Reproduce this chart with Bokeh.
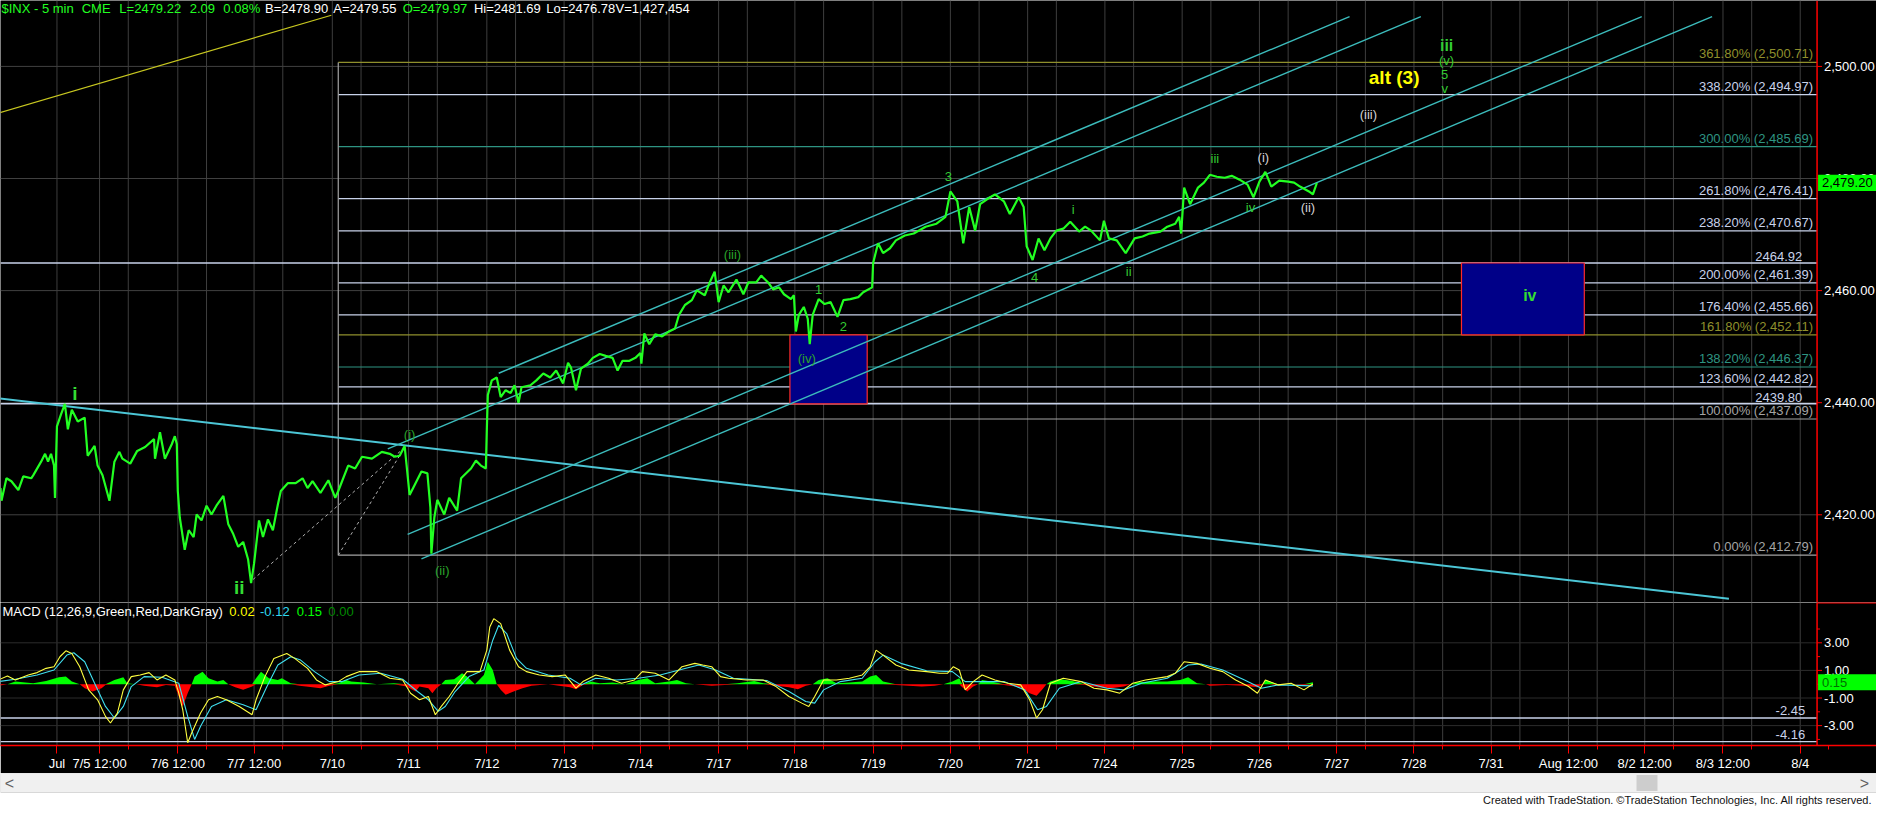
from bokeh.plotting import figure
from bokeh.layouts import column
from bokeh.models import Range1d, FixedTicker
from bokeh.core.properties import value
from bokeh.embed import file_html
from bokeh.resources import INLINE

FONT = "Liberation Sans"

# ---------------- data (x measured in 5-minute bars) ----------------
tick_pos = [59, 102, 181, 258, 337, 414, 493, 571, 648, 727, 804, 883, 961, 1039,
            1117, 1195, 1273, 1351, 1429, 1507, 1585, 1662, 1741, 1819]
tick_labels = ["Jul", "7/5 12:00", "7/6 12:00", "7/7 12:00", "7/10", "7/11", "7/12", "7/13",
               "7/14", "7/17", "7/18", "7/19", "7/20", "7/21", "7/24", "7/25", "7/26", "7/27",
               "7/28", "7/31", "Aug 12:00", "8/2 12:00", "8/3 12:00", "8/4"]
noon_pos = [t + 29 for t in tick_pos[1:]]

price_ticks = [2420, 2440, 2460, 2480, 2500]
macd_ticks = [-3, -1, 1, 3]
macd_minor = [-4, -2, 0, 2, 4]

price_pts = [
(2,2424.77),(3,2422.50),(8,2426.51),(13,2425.99),(20,2424.42),(25,2426.86),(33,2426.51),(35,2427.04),(43,2429.48),(47,2430.88),(50,2429.48),(53,2430.88),(56,2428.78),(57,2423.02),(59,2435.77),(63,2437.87),(67,2439.80),(70,2435.25),(74,2438.74),(80,2436.64),(87,2437.34),(90,2430.53),(97,2432.28),(100,2428.78),(105,2427.04),(112,2422.50),(117,2429.48),(122,2431.23),(125,2430.01),(133,2429.13),(140,2431.40),(148,2432.10),(157,2433.50),(158,2430.01),(163,2434.72),(168,2430.01),(175,2432.63),(178,2434.02),(180,2432.63),
(181,2424.24),(183,2419.52),(188,2413.76),(192,2417.25),(197,2416.03),(200,2420.05),(205,2419.00),(210,2421.62),(215,2420.05),(220,2421.62),(227,2423.37),(232,2418.30),(237,2416.56),(242,2414.28),(247,2415.16),(252,2412.01),(255,2407.82),(258,2411.32),(263,2419.00),(267,2416.03),(272,2419.18),(277,2417.25),(282,2421.80),(285,2424.24),(292,2425.64),(300,2425.64),(307,2426.51),(312,2424.77),(317,2425.99),(325,2423.89),(333,2426.16),(340,2423.02),(343,2424.24),(353,2428.78),(360,2428.26),(367,2430.35),(377,2430.01),(387,2431.23),(395,2430.88),(400,2430.35),(405,2430.53),(410,2432.28),(415,2423.54),(420,2425.29),(427,2427.73),(433,2427.39),(436,2421.27),(437,2413.06),(440,2419.52),(443,2422.67),(450,2420.05),(455,2423.02),(463,2420.75),(467,2426.51),(470,2427.04),(477,2428.26),(482,2429.66),(487,2428.78),(492,2428.26),
(493,2435.25),(494,2441.36),(498,2443.98),(503,2444.50),(507,2441.01),(512,2442.23),(517,2441.71),(521,2443.11),(525,2439.96),(528,2442.76),(537,2443.11),(543,2443.98),(550,2445.20),(557,2444.50),(563,2445.73),(570,2443.45),(575,2447.12),(578,2446.25),(583,2442.23),(588,2446.07),(595,2446.95),(600,2448.00),(607,2448.69),(613,2448.35),(620,2448.00),(625,2445.73),(630,2447.47),(637,2447.47),(643,2448.00),(648,2448.87),(649,2446.95),(652,2452.36),(657,2450.44),(663,2452.19),(670,2451.84),(677,2452.71),(683,2453.24),(687,2455.68),(693,2457.43),(700,2458.30),(705,2460.05),(713,2459.17),(718,2461.45),(723,2463.37),(727,2457.95),(732,2460.92),(737,2459.70),(745,2461.97),(752,2459.35),(757,2461.45),(765,2461.45),(770,2462.67),(777,2461.45),(782,2460.22),(788,2460.57),(793,2459.35),(800,2458.48),(803,2459.17),
(805,2452.71),(808,2455.68),(813,2457.08),(817,2454.98),(819,2450.44),(822,2455.68),(828,2458.48),(834,2457.60),(840,2457.95),(847,2455.33),(853,2458.30),(860,2458.48),(868,2458.83),(873,2459.70),(882,2460.57),
(883,2464.94),(888,2468.43),(893,2466.69),(900,2467.56),(906,2468.96),(915,2469.83),(924,2470.18),(936,2471.40),(947,2471.93),(956,2473.15),(961,2477.69),(968,2475.94),(974,2468.43),(980,2474.90),(986,2470.70),(991,2475.42),(998,2476.29),(1006,2477.17),(1015,2475.94),(1021,2473.67),(1030,2476.64),(1035,2474.90),
(1038,2467.91),(1044,2465.46),(1050,2469.31),(1056,2467.21),(1062,2469.31),(1068,2470.70),(1075,2471.05),(1082,2472.28),(1091,2470.53),(1097,2471.40),(1103,2470.70),(1112,2468.96),(1116,2472.45),(1121,2469.31),(1129,2468.96),(1138,2466.69),(1147,2469.31),(1155,2469.66),(1162,2470.18),(1173,2470.53),(1180,2471.40),(1188,2471.93),(1192,2473.15),(1194,2470.18),
(1197,2478.39),(1203,2475.42),(1211,2478.39),(1217,2479.26),(1223,2480.66),(1230,2480.31),(1238,2480.14),(1245,2480.48),(1253,2479.79),(1261,2478.91),(1267,2476.64),(1273,2479.44),(1279,2481.18),(1285,2478.56),(1293,2479.61),(1302,2479.44),(1308,2479.26),(1314,2478.56),(1323,2477.69),(1327,2477.17),(1331,2479.20)]

fib_pct = ["361.80%", "338.20%", "300.00%", "261.80%", "238.20%", "200.00%", "176.40%",
           "161.80%", "138.20%", "123.60%", "100.00%", "0.00%"]
fib_val = [2500.71, 2494.97, 2485.69, 2476.41, 2470.67, 2461.39, 2455.66,
           2452.11, 2446.37, 2442.82, 2437.09, 2412.79]
level_val = [2464.92, 2439.80]
fib_start = 343

channel_x0 = [505, 393, 413, 427]
channel_y0 = [2445.25, 2431.75, 2416.50, 2412.14]
channel_x1 = [1364, 1436, 1659, 1730]
channel_y1 = [2508.90, 2508.90, 2508.90, 2508.90]
trend_x = [0, 1747]
trend_y = [2440.78, 2405.03]
upper_x = [0, 336]
upper_y = [2491.67, 2509.13]
dash_x0 = [257, 343]
dash_y0 = [2408.46, 2412.79]
dash_x1 = [410, 410]
dash_y1 = [2432.0, 2432.0]

box_left = [799, 1477]
box_right = [877, 1601]
box_bottom = [2439.80, 2452.11]
box_top = [2452.11, 2464.92]

macd_pts = [(0,0.31),(9,0.60),(17,0.31),(30,0.67),(39,0.84),(48,1.15),(56,1.27),(62,1.99),(68,2.42),(74,2.23),(82,1.27),(91,-0.41),(100,-1.13),(108,-2.33),(113,-2.81),(120,-2.09),(126,-0.41),(134,0.55),(143,0.67),(152,0.84),(160,0.31),(169,0.67),(178,0.31),(182,-0.65),(186,-1.85),(191,-4.24),(195,-3.53),(204,-2.09),(212,-1.13),(221,-0.89),(230,-1.13),(243,-1.61),(256,-2.21),(260,-1.13),(269,0.55),(278,1.87),(291,2.23),(299,1.87),(312,1.15),(321,0.31),(330,-0.05),(343,0.19),(351,0.55),(364,0.91),(382,0.91),(395,0.43),(408,0.31),(416,-0.65),(425,-1.13),(434,-0.89),(441,-2.21),(447,-1.61),(455,-0.89),(464,0.07),(473,0.91),(486,0.91),(493,2.47),(496,4.15),(500,4.75),(507,4.39),(516,2.47),(525,1.27),(533,0.91),(546,0.67),(559,0.55),(572,0.67),(583,-0.29),(590,0.19),(603,0.67),(616,0.43),(629,0.07),(642,0.31),(650,0.91),(663,0.79),(677,0.31),(690,1.27),(703,1.51),(711,1.39),(720,1.27),(729,0.55),(737,0.43),(755,0.31),(772,0.31),(785,-0.17),(798,-0.89),(811,-1.37),(818,-1.61),(824,-0.89),(833,0.31),(846,0.31),(859,0.43),(872,0.67),(880,1.27),(886,2.47),(893,2.11),(906,1.39),(919,1.03),(937,0.91),(950,0.79),(958,0.79),(964,1.27),(970,1.03),(976,-0.41),(984,0.19),(993,0.67),(1006,0.31),(1019,0.07),(1032,-0.05),(1041,-1.13),(1048,-2.45),(1054,-1.85),(1062,0.07),(1075,0.43),(1093,0.19),(1106,-0.29),(1119,-0.41),(1132,-0.65),(1145,0.07),(1158,0.31),(1180,0.55),(1188,0.79),(1197,1.63),(1210,1.51),(1223,1.15),(1236,0.91),(1249,0.31),(1262,-0.17),(1271,-0.65),(1279,0.31),(1292,-0.05),(1305,0.07),(1318,-0.41),(1327,0.02)]

signal_pts = [(0,0.19),(17,0.36),(39,0.67),(56,1.03),(69,2.11),(76,2.28),(87,1.63),(97,0.07),(108,-1.61),(117,-2.45),(126,-1.61),(134,-0.17),(147,0.55),(165,0.50),(182,0.07),(191,-2.33),(198,-4.00),(204,-3.05),(215,-1.61),(230,-1.13),(247,-1.49),(260,-1.85),(271,-0.17),(282,1.39),(295,1.99),(305,1.75),(319,0.91),(334,0.19),(347,0.19),(364,0.67),(386,0.79),(408,0.36),(423,-0.53),(434,-1.13),(444,-1.97),(451,-1.61),(461,-0.53),(475,0.55),(490,1.03),(499,3.19),(505,4.27),(513,3.67),(523,1.87),(533,1.15),(555,0.67),(577,0.43),(588,-0.05),(603,0.43),(624,0.31),(646,0.43),(668,0.67),(694,1.15),(707,1.39),(724,1.03),(742,0.43),(776,0.26),(798,-0.53),(815,-1.25),(824,-1.37),(833,-0.41),(850,0.19),(872,0.43),(885,1.63),(893,2.11),(911,1.51),(937,0.98),(963,0.91),(976,0.19),(989,0.19),(1015,0.19),(1036,-0.41),(1049,-1.85),(1058,-1.61),(1071,-0.29),(1093,0.19),(1119,-0.29),(1136,-0.41),(1154,0.07),(1180,0.43),(1201,1.39),(1214,1.46),(1236,1.03),(1258,0.31),(1275,-0.29),(1292,-0.05),(1327,-0.12)]

hist_pts = [(0,-0.12),(9,0),(17,0.19),(35,0.07),(48,0.24),(61,0.50),(68,0.55),(74,0.19),(82,0),(87,-0.29),(95,-0.53),(104,-0.29),(108,-0.05),(117,0.31),(126,0.50),(130,0.07),(139,0),(147,-0.12),(160,-0.22),(169,-0.05),(178,-0.12),(182,-0.89),(186,-1.61),(191,-0.65),(195,0),(198,0.55),(206,0.91),(212,0.43),(221,0.19),(227,0.31),(232,0),(239,-0.22),(247,-0.41),(256,-0.17),(260,0.43),(265,0.91),(273,0.43),(282,0.31),(286,0.43),(295,0.07),(304,-0.12),(317,-0.22),(325,-0.29),(334,-0.12),(343,0.07),(351,0.31),(356,0.19),(369,0.12),(382,0),(399,0.07),(412,-0.17),(421,-0.53),(425,-0.17),(434,-0.29),(438,-0.65),(442,-0.29),(447,0),(451,0.31),(460,0.36),(468,0.79),(473,0.55),(481,0),(490,0.67),(494,1.63),(499,1.03),(503,0),(507,-0.41),(512,-0.77),(520,-0.53),(529,-0.29),(538,-0.12),(555,0),(577,-0.22),(583,-0.36),(590,-0.05),(598,0.19),(607,0.07),(620,0.12),(633,0),(646,0.31),(655,0.43),(663,0.07),(677,0.19),(685,0.31),(694,0.07),(703,0),(720,-0.12),(733,-0.05),(746,0.07),(763,0.24),(772,0.07),(785,-0.12),(798,-0.22),(807,-0.36),(815,-0.12),(822,0),(828,0.31),(837,0.43),(846,0.07),(859,0.12),(872,0.19),(880,0.55),(886,0.67),(893,0.19),(906,-0.05),(919,-0.12),(932,-0.17),(945,-0.12),(954,0),(963,0.19),(970,0.43),(973,-0.22),(978,-0.53),(984,-0.17),(989,0),(993,0.31),(1002,0.19),(1015,-0.05),(1032,-0.22),(1041,-0.65),(1048,-0.84),(1054,-0.36),(1058,0),(1062,0.19),(1071,0.38),(1084,0.24),(1097,-0.05),(1110,-0.22),(1123,-0.29),(1136,-0.17),(1143,0),(1149,0.12),(1162,0.19),(1180,0.19),(1193,0.31),(1201,0.50),(1210,0.07),(1219,0),(1223,-0.12),(1240,-0.05),(1258,-0.12),(1271,-0.22),(1277,0),(1279,0.31),(1292,-0.05),(1305,0.02),(1318,-0.05),(1327,0.15)]

macd_levels = [-2.45, -4.16]

quote = {"last": 2479.22, "chg": 2.09, "pct": 0.08, "bid": 2478.90, "ask": 2479.55,
         "open": 2479.97, "hi": 2481.69, "lo": 2476.78, "vol": 1427454}
last_close = 2479.20

# ---------------- styling ----------------
GREEN = "#22ff22"
LBL_G = "#33cc33"
LBL_GD = "#2aa52a"
LIGHT = "#c8d2ea"
OLIVE = "#8f8f2c"
TEAL = "#2e9482"
GRAYL = "#a4a4a4"
CYAN = "#3cbcbc"
RED = "#ff0000"
GRID = "#3e3e3e"

X0, X1, XR = 2, 1836, 1896          # plot area ends at X1, price scale to XR
YB, YT = 2404.35, 2511.76
MB, MT = -4.44, 5.92
FW = 1876


def add_text(fig, xs, ys, texts, color, size="13px", bold=False, align="center",
             baseline="middle", yoff=0):
    fig.text(x=xs, y=ys, text=texts, text_color=color, text_font=value(FONT),
             text_font_size=size, text_font_style="bold" if bold else "normal",
             text_align=align, text_baseline=baseline, y_offset=yoff)


def base_fig(h, yr, xaxis):
    f = figure(frame_width=FW, frame_height=h, x_range=Range1d(X0, XR), y_range=yr,
               output_backend="svg", toolbar_location=None, y_axis_location=None,
               x_axis_location=xaxis, background_fill_color="black",
               border_fill_color="black", outline_line_color=None, min_border=0)
    for g in f.grid:
        g.visible = False
    return f


grid_x = sorted(tick_pos + [n for n in noon_pos if n < X1])


def vgrid(fig, lo, hi):
    fig.segment(x0=grid_x, y0=lo, x1=grid_x, y1=hi, line_color=GRID, line_width=1)


def price_scale(fig, ticks, minor, fmt, lo, hi):
    fig.segment(x0=[X1], y0=[lo], x1=[X1], y1=[hi], line_color=RED, line_width=1.5)
    fig.segment(x0=X1, y0=ticks, x1=X1 + 5, y1=ticks, line_color=RED, line_width=1)
    if minor:
        fig.segment(x0=X1, y0=minor, x1=X1 + 3, y1=minor, line_color=RED, line_width=1)
    add_text(fig, [X1 + 7] * len(ticks), ticks, [fmt.format(v) for v in ticks], "white",
             align="left")


# ---------------- price panel ----------------
p = base_fig(602, Range1d(YB, YT), None)
vgrid(p, YB, YT)
p.segment(x0=X0, y0=price_ticks, x1=X1, y1=price_ticks, line_color="#404040", line_width=1)

fib_colors = []
for pct in fib_pct:
    if pct in ("361.80%", "161.80%"):
        fib_colors.append(OLIVE)
    elif pct in ("300.00%", "138.20%"):
        fib_colors.append(TEAL)
    elif pct in ("100.00%", "0.00%"):
        fib_colors.append(GRAYL)
    else:
        fib_colors.append(LIGHT)
p.segment(x0=fib_start, y0=fib_val, x1=X1, y1=fib_val, line_color=fib_colors, line_width=1.2)
p.segment(x0=[fib_start], y0=[min(fib_val)], x1=[fib_start], y1=[max(fib_val)],
          line_color=GRAYL, line_width=1.2)
p.segment(x0=X0, y0=level_val, x1=X1, y1=level_val, line_color=LIGHT, line_width=1.4)

p.quad(left=box_left, right=box_right, bottom=box_bottom, top=box_top,
       fill_color="#000088", line_color="#ff2a2a", line_width=1.2)

p.line(upper_x, upper_y, line_color="#c8c820", line_width=1.2)
p.line(trend_x, trend_y, line_color="#4cc6d6", line_width=2)
p.segment(x0=channel_x0, y0=channel_y0, x1=channel_x1, y1=channel_y1,
          line_color=CYAN, line_width=1.4)
p.segment(x0=dash_x0, y0=dash_y0, x1=dash_x1, y1=dash_y1, line_color="#b0b0b0",
          line_dash="3 3", line_width=1)

p.line([a for a, b in price_pts], [b for a, b in price_pts], line_color=GREEN, line_width=2.2)

fib_text = [f"{pct} ({v:,.2f})" for pct, v in zip(fib_pct, fib_val)]
p.text(x=[1832] * len(fib_val), y=fib_val, text=fib_text, text_color=fib_colors,
       text_font=value(FONT), text_font_size="13px", text_align="right",
       text_baseline="bottom", y_offset=-1)
add_text(p, [1821] * len(level_val), level_val, [f"{v:.2f}" for v in level_val], LIGHT,
         align="right", baseline="bottom", yoff=-2)

# wave labels
add_text(p, [77, 243], [2441.7, 2407.0], ["i", "ii"], "#33dd33", size="19px", bold=True)
add_text(p, [415, 448, 741, 816], [2434.4, 2410.1, 2466.4, 2447.9],
         ["(i)", "(ii)", "(iii)", "(iv)"], LBL_GD)
add_text(p, [828, 853, 959, 1046, 1085, 1141, 1228, 1264],
         [2460.2, 2453.6, 2480.3, 2462.3, 2474.4, 2463.4, 2483.6, 2474.9],
         ["1", "2", "3", "4", "i", "ii", "iii", "iv"], LBL_G)
add_text(p, [1277, 1322, 1383], [2483.8, 2474.9, 2491.5], ["(i)", "(ii)", "(iii)"], "#d4d4d4")
add_text(p, [1409], [2498.1], ["alt (3)"], "#ffff00", size="19px", bold=True)
add_text(p, [1462], [2503.7], ["iii"], LBL_G, size="16px", bold=True)
add_text(p, [1462, 1460, 1460], [2501.1, 2498.5, 2496.0], ["(v)", "5", "v"], LBL_G)
add_text(p, [1546], [2459.2], ["iv"], "#33dd33", size="16px", bold=True)

# header
hdr_text = ["$INX - 5 min", "CME", f"L={quote['last']:.2f}", f"{quote['chg']:.2f}",
            f"{quote['pct']:.2f}%", f"B={quote['bid']:.2f}", f"A={quote['ask']:.2f}",
            f"O={quote['open']:.2f}", f"Hi={quote['hi']:.2f}", f"Lo={quote['lo']:.2f}",
            f"V={quote['vol']:,}"]
hdr_x = [3, 84, 122, 193, 227, 269, 338, 408, 480, 553, 623]
hdr_col = [GREEN] * 5 + ["white", "white", GREEN, "white", "white", "white"]
p.text(x=hdr_x, y=[2510.4] * len(hdr_x), text=hdr_text, text_color=hdr_col,
       text_font=value(FONT), text_font_size="13px", text_align="left", text_baseline="middle")

# price scale on the right
price_scale(p, price_ticks, [], "{:,.2f}", YB, YT)
p.quad(left=[X1 + 1], right=[XR], bottom=[last_close - 1.45], top=[last_close + 1.45],
       fill_color="#00ff00", line_color=None)
add_text(p, [X1 + 5], [last_close], [f"{last_close:,.2f}"], "black", align="left")

# ---------------- MACD panel ----------------
m = base_fig(143, Range1d(MB, MT), "below")
m.x_range = p.x_range
vgrid(m, MB, MT)
m.segment(x0=X0, y0=macd_ticks, x1=X1, y1=macd_ticks, line_color="#2c2c2c", line_width=1)

xt = FixedTicker(ticks=tick_pos, minor_ticks=noon_pos)
m.xaxis.ticker = xt
m.xaxis.major_label_overrides = {t: l for t, l in zip(tick_pos, tick_labels)}
m.xaxis.axis_line_color = RED
m.xaxis.axis_line_width = 1.5
m.xaxis.major_tick_line_color = RED
m.xaxis.minor_tick_line_color = RED
m.xaxis.major_tick_out = 8
m.xaxis.major_tick_in = 0
m.xaxis.minor_tick_out = 4
m.xaxis.minor_tick_in = 0
m.xaxis.major_label_text_color = "white"
m.xaxis.major_label_text_font = FONT
m.xaxis.major_label_text_font_size = "13px"
m.xaxis.major_label_standoff = 2

m.segment(x0=X0, y0=macd_levels, x1=X1, y1=macd_levels, line_color=LIGHT, line_width=1.4)
add_text(m, [1824] * 2, macd_levels, [f"{v:.2f}" for v in macd_levels], LIGHT,
         align="right", baseline="bottom", yoff=-3)

hx = [a for a, b in hist_pts]
hv = [b for a, b in hist_pts]
m.varea(x=hx, y1=[0] * len(hx), y2=[max(v, 0) for v in hv], fill_color="#00ff00")
m.varea(x=hx, y1=[0] * len(hx), y2=[min(v, 0) for v in hv], fill_color="#ff0000")
m.line([a for a, b in signal_pts], [b for a, b in signal_pts], line_color="#40e0f0", line_width=1.1)
m.line([a for a, b in macd_pts], [b for a, b in macd_pts], line_color="#ffff40", line_width=1.1)

leg_text = ["MACD (12,26,9,Green,Red,DarkGray)", f"{macd_pts[-1][1]:.2f}",
            f"{signal_pts[-1][1]:.2f}", f"{hist_pts[-1][1]:.2f}", "0.00"]
leg_x = [4, 233, 264, 301, 333]
leg_col = ["white", "#ffff00", "#30d8f0", "#00ff00", "#008a00"]
m.text(x=leg_x, y=[5.27] * 5, text=leg_text, text_color=leg_col, text_font=value(FONT),
       text_font_size="13px", text_align="left", text_baseline="middle")

price_scale(m, macd_ticks, macd_minor, "{:.2f}", MB, MT)
m.segment(x0=[X1], y0=[MT], x1=[XR], y1=[MT], line_color=RED, line_width=2)
m.quad(left=[X1 + 1], right=[XR], bottom=[hist_pts[-1][1] - 0.58],
       top=[hist_pts[-1][1] + 0.58], fill_color="#00ff00", line_color=None)
add_text(m, [X1 + 5], [hist_pts[-1][1]], [f"{hist_pts[-1][1]:.2f}"], "#007000", align="left")

# ---------------- scrollbar & footer ----------------
b = figure(width=FW, height=34, x_range=Range1d(0, FW), y_range=Range1d(0, 34),
           output_backend="svg", toolbar_location=None, x_axis_location=None,
           y_axis_location=None, background_fill_color="white", border_fill_color="white",
           outline_line_color=None, min_border=0)
for g in b.grid:
    g.visible = False
b.quad(left=[0], right=[FW], bottom=[15], top=[34], fill_color="#f0f0f0", line_color="#d8d8d8")
b.quad(left=[1636], right=[1657], bottom=[16.5], top=[32.5], fill_color="#cdcdcd", line_color=None)
add_text(b, [9, 1864], [24.5, 24.5], ["<", ">"], "#606060", size="16px")
add_text(b, [1872], [7.5], ["Created with TradeStation. \u00a9TradeStation Technologies, Inc. All rights reserved."],
         "#111111", size="11px", align="right")

layout = column(p, m, b, spacing=0)
open("out.html", "w").write(file_html(layout, INLINE))
